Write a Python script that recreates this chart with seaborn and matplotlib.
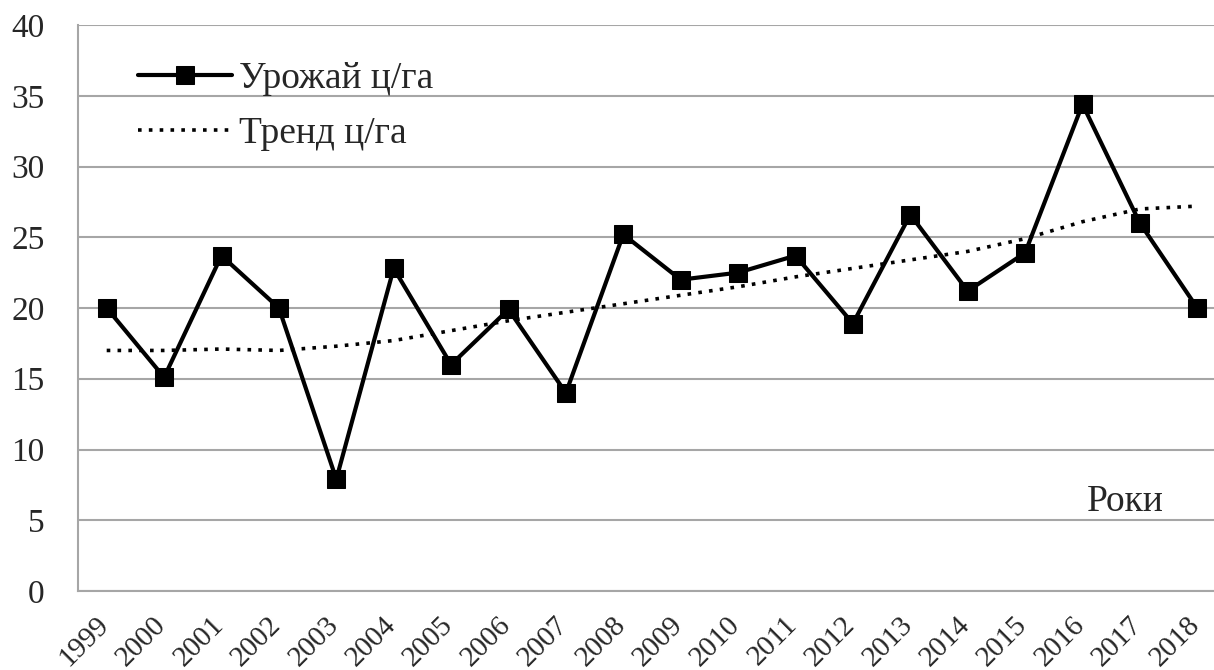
import numpy as np
import pandas as pd
import matplotlib.pyplot as plt
import matplotlib.transforms as mtransforms
import seaborn as sns

years = [str(y) for y in range(1999, 2019)]
yield_vals = [20.0, 15.1, 23.7, 20.0, 7.9, 22.8, 16.0, 19.9, 14.0, 25.2,
              22.0, 22.5, 23.7, 18.9, 26.6, 21.2, 23.9, 34.4, 26.0, 20.0]
trend_vals = [17.0, 17.0, 17.1, 17.0, 17.3, 17.7, 18.4, 19.1, 19.7, 20.3,
              20.9, 21.5, 22.2, 22.8, 23.4, 24.0, 24.9, 26.1, 27.0, 27.2]

df = pd.DataFrame({'year': years, 'yield': yield_vals, 'trend': trend_vals})

sns.set_style('white')
plt.rcParams['font.family'] = ['Liberation Serif', 'DejaVu Serif']

grey = '#a6a6a6'
fig = plt.figure(figsize=(12.14, 6.70), dpi=100)
# plot area runs a little past the right edge, like the cropped original
ax = fig.add_axes([78 / 1214, 1 - 591 / 670, 1148 / 1214, 566 / 670])

sns.lineplot(data=df, x='year', y='yield', ax=ax, color='black', linewidth=3,
             marker='s', markersize=12.5, markeredgecolor='black',
             label='Урожай ц/га', sort=False)
sns.lineplot(data=df, x='year', y='trend', ax=ax, color='black', linewidth=2.6,
             linestyle=(0, (1, 2)), label='Тренд ц/га', sort=False)

ax.set_xlim(-0.5, len(years) - 0.5)
ax.set_ylim(0, 40)
ax.set_yticks(np.arange(0, 41, 5))
ax.yaxis.grid(True, color=grey, linewidth=1.5)
ax.set_axisbelow(True)

ax.set_xticks(np.arange(len(years)))
ax.set_xticklabels(years, rotation=45, ha='right', va='top', rotation_mode='anchor')
ax.set_xticks(np.arange(-0.5, len(years), 1), minor=True)
ax.tick_params(axis='x', which='major', length=0, pad=15, labelsize=21)
ax.tick_params(axis='x', which='minor', length=8, width=1.5, color=grey, direction='out')
ax.tick_params(axis='y', length=10, width=1.5, color=grey, labelsize=24, pad=14)

# nudge rotated year labels left so they end at the category centre
shift = mtransforms.ScaledTranslation(-11 / 100, 0, fig.dpi_scale_trans)
for lab in ax.get_xticklabels():
    lab.set_transform(lab.get_transform() + shift)

for s in ['top', 'right']:
    ax.spines[s].set_visible(False)
for s in ['left', 'bottom']:
    ax.spines[s].set_color(grey)
    ax.spines[s].set_linewidth(1.5)

ax.set_xlabel('')
ax.set_ylabel('')
ax.text(0.912, 0.141, 'Роки', transform=ax.transAxes, fontsize=27,
        ha='center', va='baseline')

ax.legend(loc='upper left', bbox_to_anchor=(0.023, 0.995), frameon=False,
          fontsize=27, handlelength=2.5, handletextpad=0.2, labelspacing=0.55)

fig.savefig('out.png', dpi=100)
